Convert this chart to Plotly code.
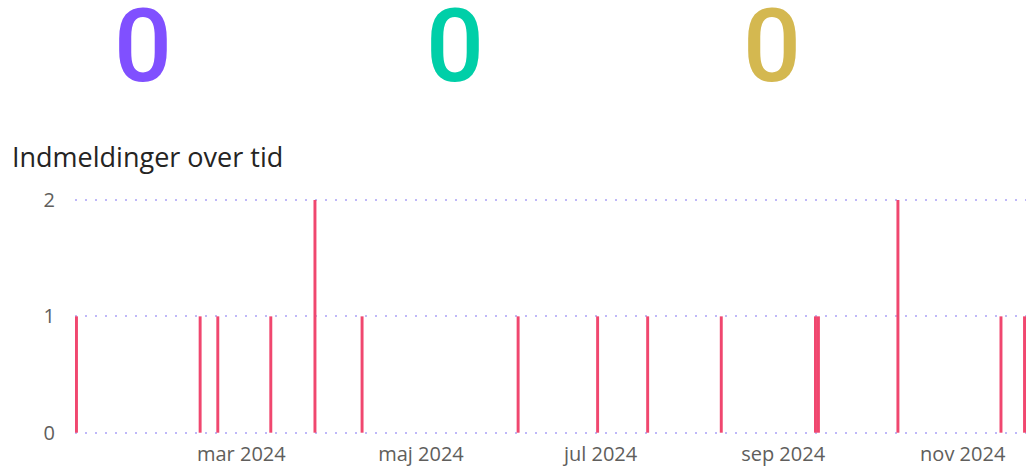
import plotly.graph_objects as go

# KPI cards shown above the chart
kpi_values = [0, 0, 0]
kpi_colors = ["#8050FF", "#00CFA8", "#D4B850"]
kpi_centers = [143, 455, 772]  # horizontal centre of each card, px

# Daily registrations
dates = [
    "2024-01-05", "2024-02-16", "2024-02-22", "2024-03-11", "2024-03-26",
    "2024-04-11", "2024-06-03", "2024-06-30", "2024-07-17", "2024-08-11",
    "2024-09-12", "2024-09-13", "2024-10-10", "2024-11-14", "2024-11-22",
]
counts = [1, 1, 1, 1, 2, 1, 1, 1, 1, 1, 1, 1, 2, 1, 1]

# Axis labels
x_tick_vals = ["2024-03-01", "2024-05-01", "2024-07-01", "2024-09-01", "2024-11-01"]
x_tick_text = ["mar 2024", "maj 2024", "jul 2024", "sep 2024", "nov 2024"]
y_tick_vals = [0, 1, 2]

W, H = 1026, 472
NUM_FONT = "Roboto"
TEXT_FONT = "Open Sans"
DAY_MS = 86400000

fig = go.Figure(
    go.Bar(
        x=dates,
        y=counts,
        width=[DAY_MS] * len(dates),
        marker=dict(color="#F0476F", line=dict(width=0)),
        hoverinfo="x+y",
    )
)

# a little padding on the value axis so the 0 and 2 gridlines are drawn
Y_PAD = 0.02
y0_px, y2_px = 432.7, 200.0
unit_px = (y0_px - y2_px) / 2
plot_top = y2_px - Y_PAD * unit_px
plot_bottom = y0_px + Y_PAD * unit_px
plot_left, plot_right = 75, 1026

fig.update_layout(
    width=W,
    height=H,
    margin=dict(l=0, r=0, t=0, b=0),
    paper_bgcolor="white",
    plot_bgcolor="white",
    showlegend=False,
    font=dict(family=TEXT_FONT, color="#605E5C"),
    xaxis=dict(
        type="date",
        domain=[plot_left / W, plot_right / W],
        range=["2024-01-04 12:00", "2024-11-22 12:00"],
        tickvals=x_tick_vals,
        ticktext=x_tick_text,
        showgrid=False,
        zeroline=False,
        showline=False,
        ticks="",
        ticklabelstandoff=5,
        tickfont=dict(size=20, color="#605E5C", family=TEXT_FONT),
        automargin=False,
        fixedrange=True,
    ),
    yaxis=dict(
        domain=[(H - plot_bottom) / H, (H - plot_top) / H],
        range=[-Y_PAD, 2 + Y_PAD],
        tickvals=y_tick_vals,
        showgrid=True,
        gridcolor="#BFB8F8",
        gridwidth=2,
        griddash="2px,8px",
        zeroline=False,
        showline=False,
        ticks="",
        ticklabelstandoff=19,
        tickfont=dict(size=20, color="#605E5C", family=TEXT_FONT),
        automargin=False,
        fixedrange=True,
    ),
)

annotations = []
for val, col, cx in zip(kpi_values, kpi_colors, kpi_centers):
    annotations.append(dict(
        text=str(val),
        x=cx / W, y=1 - 46 / H,
        xref="paper", yref="paper",
        xanchor="center", yanchor="middle",
        showarrow=False,
        font=dict(size=102, color=col, family=NUM_FONT, weight=500),
    ))

annotations.append(dict(
    text="Indmeldinger over tid",
    x=10 / W, y=1 - 156 / H,
    xref="paper", yref="paper",
    xanchor="left", yanchor="middle",
    showarrow=False,
    font=dict(size=27, color="#252423", family=TEXT_FONT),
))

fig.update_layout(annotations=annotations)

fig.write_html("out.html")
